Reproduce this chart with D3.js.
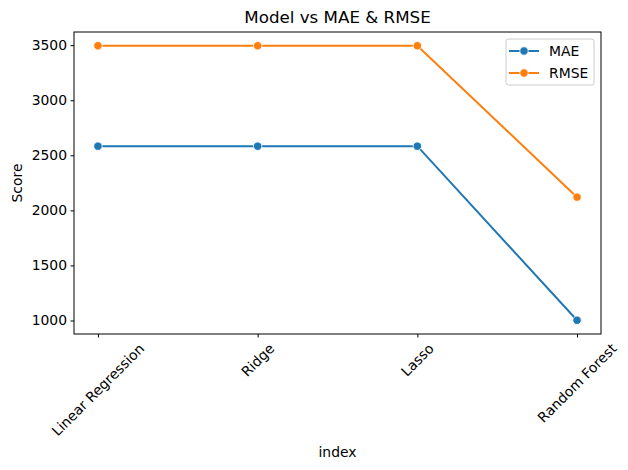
<!DOCTYPE html>
<html><head><meta charset="utf-8">
<script src="https://cdn.jsdelivr.net/npm/d3@7"></script>
<style>body{margin:0;background:#fff;}svg{font-family:"DejaVu Sans",sans-serif;}</style>
</head><body><svg id="c" width="628" height="470"></svg>
<script>
const models = ["Linear Regression", "Ridge", "Lasso", "Random Forest"];
const maeValues = [2583, 2583, 2583, 1002];
const rmseValues = [3495, 3495, 3495, 2120];
const seriesNames = ["MAE", "RMSE"];
const colors = ["#1f77b4", "#ff7f0e"];
const yTicks = [1000, 1500, 2000, 2500, 3000, 3500];

const svg = d3.select("#c");
const L = 74, R = 601, T = 32, B = 334;
const x = d3.scaleLinear().domain([-0.15, models.length - 1 + 0.15]).range([L, R]);
const all = maeValues.concat(rmseValues);
const mn = d3.min(all), mx = d3.max(all), pad = (mx - mn) * 0.05;
const y = d3.scaleLinear().domain([mn - pad, mx + pad]).range([B, T]);

const series = [maeValues, rmseValues];
series.forEach((vals, si) => {
  const line = d3.line().x((d, i) => x(i)).y(d => y(d));
  svg.append("path").attr("d", line(vals)).attr("fill", "none")
    .attr("stroke", colors[si]).attr("stroke-width", 2);
  svg.selectAll(null).data(vals).enter().append("circle")
    .attr("cx", (d, i) => x(i)).attr("cy", d => y(d)).attr("r", 4.2)
    .attr("fill", colors[si]).attr("stroke", "#fff").attr("stroke-width", 0.8);
});

// frame
svg.append("rect").attr("x", L).attr("y", T).attr("width", R - L).attr("height", B - T)
  .attr("fill", "none").attr("stroke", "#000").attr("stroke-width", 1);

// y axis
const yAxis = svg.append("g").attr("transform", `translate(${L},0)`)
  .call(d3.axisLeft(y).tickValues(yTicks).tickSize(3.5).tickPadding(3.5).tickFormat(d3.format("d")));
yAxis.select(".domain").remove();
yAxis.selectAll("text").attr("font-size", 13.9).attr("fill", "#000").attr("font-family", "DejaVu Sans");
yAxis.selectAll("line").attr("stroke", "#000");

// x axis
const xAxis = svg.append("g").attr("transform", `translate(0,${B})`)
  .call(d3.axisBottom(x).tickValues(d3.range(models.length)).tickSize(3.5).tickFormat(""));
xAxis.select(".domain").remove();
xAxis.selectAll("line").attr("stroke", "#000");

models.forEach((m, i) => {
  const t = svg.append("text").text(m).attr("font-size", 13.9).attr("fill", "#000")
    .attr("text-anchor", "middle").attr("dominant-baseline", "central");
  const w = t.node().getComputedTextLength();
  const h = 13.9 * 1.0;
  const bh = (w + h) * Math.SQRT1_2;
  const cx = x(i), cy = B + 7 + bh / 2;
  t.attr("x", cx).attr("y", cy).attr("transform", `rotate(-45,${cx},${cy})`);
});

// labels
svg.append("text").text("Model vs MAE & RMSE").attr("x", (L + R) / 2).attr("y", 23)
  .attr("text-anchor", "middle").attr("font-size", 16.7).attr("fill", "#000");
svg.append("text").text("index").attr("x", (L + R) / 2).attr("y", 457)
  .attr("text-anchor", "middle").attr("font-size", 13.9).attr("fill", "#000");
svg.append("text").text("Score").attr("transform", `translate(22,${(T + B) / 2}) rotate(-90)`)
  .attr("text-anchor", "middle").attr("font-size", 13.9).attr("fill", "#000");

// legend
const lg = svg.append("g");
lg.append("rect").attr("x", 506).attr("y", 39).attr("width", 88).attr("height", 46)
  .attr("rx", 2.5).attr("fill", "#fff").attr("fill-opacity", 0.8).attr("stroke", "#ccc");
seriesNames.forEach((n, i) => {
  const yy = 51 + i * 22;
  lg.append("line").attr("x1", 509).attr("x2", 539).attr("y1", yy).attr("y2", yy)
    .attr("stroke", colors[i]).attr("stroke-width", 2);
  lg.append("circle").attr("cx", 524).attr("cy", yy).attr("r", 4.2).attr("fill", colors[i])
    .attr("stroke", "#fff").attr("stroke-width", 0.8);
  lg.append("text").text(n).attr("x", 549).attr("y", yy).attr("dominant-baseline", "central")
    .attr("font-size", 13.9).attr("fill", "#000");
});
</script></body></html>
